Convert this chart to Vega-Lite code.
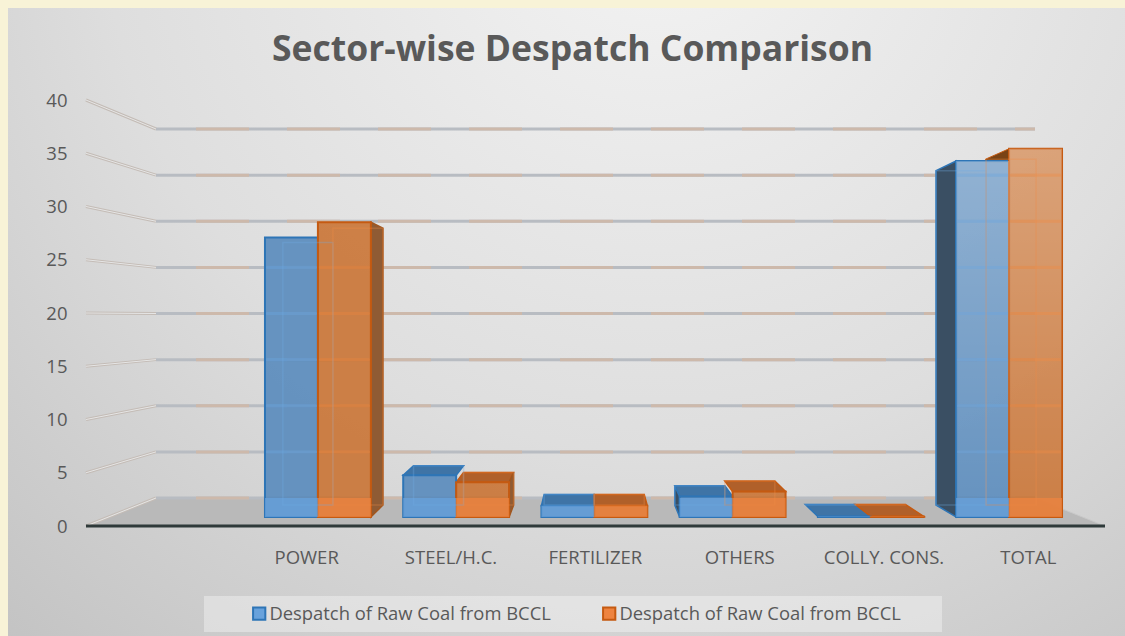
{
  "$schema": "https://vega.github.io/schema/vega-lite/v6.json",
  "width": 1125,
  "height": 636,
  "padding": 0,
  "autosize": {"type": "none"},
  "background": "#f8f3d7",
  "title": {"text": "Sector-wise Despatch Comparison", "font": "Open Sans", "fontSize": 35.5, "fontWeight": "bold", "color": "#595959", "anchor": "middle", "frame": "group", "dx": 10, "offset": -103, "baseline": "bottom"},
  "config": {"view": {"stroke": null}, "scale": {"round": false}},
  "params": [{"name": "order", "value": ["POWER", "STEEL/H.C.", "FERTILIZER", "OTHERS", "COLLY. CONS.", "TOTAL"]}],
  "datasets": {
    "bars": [
      {"sector": "POWER", "series": "A", "value": 27.4},
      {"sector": "POWER", "series": "B", "value": 28.9},
      {"sector": "STEEL/H.C.", "series": "A", "value": 4.1},
      {"sector": "STEEL/H.C.", "series": "B", "value": 3.4},
      {"sector": "FERTILIZER", "series": "A", "value": 1.1},
      {"sector": "FERTILIZER", "series": "B", "value": 1.1},
      {"sector": "OTHERS", "series": "A", "value": 2.0},
      {"sector": "OTHERS", "series": "B", "value": 2.5},
      {"sector": "COLLY. CONS.", "series": "A", "value": 0.05},
      {"sector": "COLLY. CONS.", "series": "B", "value": 0.05},
      {"sector": "TOTAL", "series": "A", "value": 34.9},
      {"sector": "TOTAL", "series": "B", "value": 36.1}
    ],
    "ticks": [{"tick": 0}, {"tick": 5}, {"tick": 10}, {"tick": 15}, {"tick": 20}, {"tick": 25}, {"tick": 30}, {"tick": 35}, {"tick": 40}],
    "barGrid": [
      {"sector": "POWER", "series": "A", "tick": 5}, {"sector": "POWER", "series": "A", "tick": 10}, {"sector": "POWER", "series": "A", "tick": 15}, {"sector": "POWER", "series": "A", "tick": 20}, {"sector": "POWER", "series": "A", "tick": 25},
      {"sector": "POWER", "series": "B", "tick": 5}, {"sector": "POWER", "series": "B", "tick": 10}, {"sector": "POWER", "series": "B", "tick": 15}, {"sector": "POWER", "series": "B", "tick": 20}, {"sector": "POWER", "series": "B", "tick": 25},
      {"sector": "TOTAL", "series": "A", "tick": 5}, {"sector": "TOTAL", "series": "A", "tick": 10}, {"sector": "TOTAL", "series": "A", "tick": 15}, {"sector": "TOTAL", "series": "A", "tick": 20}, {"sector": "TOTAL", "series": "A", "tick": 25}, {"sector": "TOTAL", "series": "A", "tick": 30}, {"sector": "TOTAL", "series": "A", "tick": 35},
      {"sector": "TOTAL", "series": "B", "tick": 5}, {"sector": "TOTAL", "series": "B", "tick": 10}, {"sector": "TOTAL", "series": "B", "tick": 15}, {"sector": "TOTAL", "series": "B", "tick": 20}, {"sector": "TOTAL", "series": "B", "tick": 25}, {"sector": "TOTAL", "series": "B", "tick": 30}, {"sector": "TOTAL", "series": "B", "tick": 35}
    ]
  },
  "resolve": {
    "scale": {"x": "independent", "y": "independent", "xOffset": "independent", "fill": "independent", "stroke": "independent"},
    "axis": {"x": "independent", "y": "independent"},
    "legend": {"fill": "independent", "stroke": "independent"}
  },
  "layer": [
    {
      "description": "Chart panel",
      "data": {"values": [{"panel": 1}]},
      "mark": {"type": "rect", "fill": {"gradient": "radial", "x1": 0.58, "y1": 0.12, "r1": 0, "x2": 0.58, "y2": 0.12, "r2": 0.9, "stops": [{"offset": 0, "color": "#f4f4f4"}, {"offset": 0.55, "color": "#dedede"}, {"offset": 1, "color": "#c2c2c2"}]}},
      "encoding": {
        "x": {"datum": 0, "type": "quantitative", "axis": null, "scale": {"domain": [0, 1], "range": [8, 1125]}},
        "x2": {"datum": 1},
        "y": {"datum": 0, "type": "quantitative", "axis": null, "scale": {"domain": [0, 1], "range": [8, 636]}},
        "y2": {"datum": 1}
      }
    },
    {
      "description": "Legend band",
      "data": {"values": [{"panel": 1}]},
      "mark": {"type": "rect", "fill": "#ffffff", "opacity": 0.35},
      "encoding": {
        "x": {"datum": 0, "type": "quantitative", "axis": null, "scale": {"domain": [0, 1], "range": [204, 942]}},
        "x2": {"datum": 1},
        "y": {"datum": 0, "type": "quantitative", "axis": null, "scale": {"domain": [0, 1], "range": [596, 632]}},
        "y2": {"datum": 1}
      }
    },
    {
      "description": "Chart floor",
      "data": {"values": [{"tick": 0}]},
      "mark": {"type": "point", "filled": true, "size": 4, "opacity": 1, "fill": "#b9b9b9", "stroke": "#c9c9c9", "strokeWidth": 1, "shape": "M0,0L879,0L949,28L-70,28Z"},
      "encoding": {
        "x": {"datum": 0, "type": "quantitative", "axis": null, "scale": {"domain": [0, 1], "range": [156, 1035]}},
        "y": {"field": "tick", "type": "quantitative", "axis": null, "scale": {"domain": [0, 40], "range": [498, 129]}}
      }
    },
    {
      "description": "Back wall gridlines, grey base",
      "data": {"name": "ticks"},
      "mark": {"type": "rule", "stroke": "#b8bcc2", "strokeWidth": 3},
      "encoding": {
        "x": {"datum": 0, "type": "quantitative", "axis": null, "scale": {"domain": [0, 1], "range": [156, 1035]}},
        "x2": {"datum": 1},
        "y": {"field": "tick", "type": "quantitative", "axis": null, "scale": {"domain": [0, 40], "range": [498, 129]}}
      }
    },
    {
      "description": "Back wall gridlines, orange tint",
      "data": {"name": "ticks"},
      "mark": {"type": "rule", "stroke": "#cdb9ab", "strokeWidth": 3, "strokeDash": [53, 38]},
      "encoding": {
        "x": {"datum": 0, "type": "quantitative", "axis": null, "scale": {"domain": [0, 1], "range": [196, 1035]}},
        "x2": {"datum": 1},
        "y": {"field": "tick", "type": "quantitative", "axis": null, "scale": {"domain": [0, 40], "range": [498, 129]}}
      }
    },
    {
      "description": "Side wall gridlines running from the axis to the back wall",
      "data": {"name": "ticks"},
      "mark": {"type": "rule", "stroke": "#c4bcb6", "strokeWidth": 3, "y2Offset": {"expr": "28-1.425*datum.tick"}},
      "encoding": {
        "x": {"datum": 0, "type": "quantitative", "axis": null, "scale": {"domain": [0, 1], "range": [156, 86]}},
        "x2": {"datum": 1},
        "y": {"field": "tick", "type": "quantitative", "axis": null, "scale": {"domain": [0, 40], "range": [498, 129]}},
        "y2": {"field": "tick"}
      }
    },
    {
      "description": "Pale core of the side wall gridlines",
      "data": {"name": "ticks"},
      "mark": {"type": "rule", "stroke": "#e6e6e6", "strokeWidth": 1, "y2Offset": {"expr": "28-1.425*datum.tick"}},
      "encoding": {
        "x": {"datum": 0, "type": "quantitative", "axis": null, "scale": {"domain": [0, 1], "range": [156, 86]}},
        "x2": {"datum": 1},
        "y": {"field": "tick", "type": "quantitative", "axis": null, "scale": {"domain": [0, 40], "range": [498, 129]}},
        "y2": {"field": "tick"}
      }
    },
    {
      "description": "Value axis and its baseline",
      "data": {"values": [{"tick": 0}]},
      "mark": {"type": "rule", "stroke": "#2f3a3a", "strokeWidth": 3},
      "encoding": {
        "x": {"datum": 0, "type": "quantitative", "axis": null, "scale": {"domain": [0, 1], "range": [86, 1105]}},
        "x2": {"datum": 1},
        "y": {"field": "tick", "type": "quantitative", "scale": {"domain": [0, 40], "range": [526, 100]},
          "axis": {"title": null, "orient": "left", "offset": -67, "zindex": 1, "values": [0, 5, 10, 15, 20, 25, 30, 35, 40], "domain": false, "ticks": false, "grid": false, "labelPadding": 0, "labelFont": "Open Sans", "labelFontSize": 18.5, "labelColor": "#595959"}}
      }
    },
    {
      "description": "Sector axis",
      "data": {"name": "bars"},
      "mark": {"type": "point", "opacity": 0},
      "encoding": {
        "x": {"field": "sector", "type": "nominal", "sort": null, "scale": {"domain": {"expr": "order"}, "range": [234, 1100], "paddingInner": 0, "paddingOuter": 0},
          "axis": {"title": null, "orient": "bottom", "offset": -91, "zindex": 1, "domain": false, "ticks": false, "grid": false, "labelAngle": 0, "labelPadding": 3, "labelFont": "Open Sans", "labelFontSize": 18.5, "labelColor": "#595959", "labelLimit": 200}},
        "y": {"datum": 0, "type": "quantitative", "axis": null, "scale": {"domain": [0, 40], "range": [517, 109]}}
      }
    },
    {
      "description": "Top faces of the bars, seen only on bars below eye level",
      "data": {"name": "bars"},
      "transform": [{"filter": "datum.value < 19"}],
      "mark": {"type": "point", "filled": true, "size": 4, "opacity": 1, "strokeWidth": 1.5,
        "shape": {"expr": "'M-26.5,0L26.5,0L'+(26.5+(273-138.4*indexof(order,datum.sector)-(datum.series=='B'?53:0))*0.055)+','+(0.62*datum.value-12)+'L'+(-26.5+(326-138.4*indexof(order,datum.sector)-(datum.series=='B'?53:0))*0.055)+','+(0.62*datum.value-12)+'Z'"}},
      "encoding": {
        "x": {"field": "sector", "type": "nominal", "axis": null, "scale": {"domain": {"expr": "order"}, "range": [248.8, 1078.2], "paddingInner": 0.234, "paddingOuter": 0.117}},
        "xOffset": {"field": "series", "type": "nominal"},
        "y": {"field": "value", "type": "quantitative", "stack": null, "axis": null, "scale": {"domain": [0, 40], "range": [517, 109]}},
        "fill": {"field": "series", "type": "nominal", "legend": null, "scale": {"domain": ["A", "B"], "range": ["#3f74a6", "#b0602a"]}},
        "stroke": {"field": "series", "type": "nominal", "legend": null, "scale": {"domain": ["A", "B"], "range": ["#2e75b6", "#c55a11"]}}
      }
    },
    {
      "description": "Outer side faces of the bars",
      "data": {"name": "bars"},
      "transform": [{"filter": "datum.value > 1 && ((datum.series=='A' && indexof(order,datum.sector)>=3) || (datum.series=='B' && indexof(order,datum.sector)<=1))"}],
      "mark": {"type": "point", "filled": true, "size": 4, "opacity": 1, "strokeWidth": 1.5,
        "shape": {"expr": "datum.series=='B' ? 'M26.5,0L'+(26.5+(273-138.4*indexof(order,datum.sector)-53)*0.055)+','+(0.62*datum.value-12)+'L'+(26.5+(273-138.4*indexof(order,datum.sector)-53)*0.055)+','+(10.2*datum.value-12)+'L26.5,'+(10.2*datum.value)+'Z' : 'M-26.5,0L'+(-26.5+(326-138.4*indexof(order,datum.sector))*0.055)+','+(0.62*datum.value-12)+'L'+(-26.5+(326-138.4*indexof(order,datum.sector))*0.055)+','+(10.2*datum.value-12)+'L-26.5,'+(10.2*datum.value)+'Z'"}},
      "encoding": {
        "x": {"field": "sector", "type": "nominal", "axis": null, "scale": {"domain": {"expr": "order"}, "range": [248.8, 1078.2], "paddingInner": 0.234, "paddingOuter": 0.117}},
        "xOffset": {"field": "series", "type": "nominal", "scale": {"domain": ["A", "B"]}},
        "y": {"field": "value", "type": "quantitative", "stack": null, "axis": null, "scale": {"domain": [0, 40], "range": [517, 109]}},
        "fill": {"field": "series", "type": "nominal", "legend": null, "scale": {"domain": ["A", "B"], "range": ["#3a4f63", "#8f5b34"]}},
        "stroke": {"field": "series", "type": "nominal", "legend": null, "scale": {"domain": ["A", "B"], "range": ["#2e75b6", "#a0561f"]}}
      }
    },
    {
      "description": "Inner side of the tallest orange bar, visible above its neighbour",
      "data": {"name": "bars"},
      "transform": [{"filter": "datum.series=='B' && datum.sector=='TOTAL'"}],
      "mark": {"type": "point", "filled": true, "size": 4, "opacity": 1, "fill": "#7a4315", "stroke": "#c55a11", "strokeWidth": 1, "shape": "M-26.5,0L-50,10.4L-50,13L-26.5,13Z"},
      "encoding": {
        "x": {"field": "sector", "type": "nominal", "axis": null, "scale": {"domain": {"expr": "order"}, "range": [248.8, 1078.2], "paddingInner": 0.234, "paddingOuter": 0.117}},
        "xOffset": {"field": "series", "type": "nominal", "scale": {"domain": ["A", "B"]}},
        "y": {"field": "value", "type": "quantitative", "stack": null, "axis": null, "scale": {"domain": [0, 40], "range": [517, 109]}}
      }
    },
    {
      "description": "Front faces of the bars",
      "data": {"name": "bars"},
      "mark": {"type": "bar", "fillOpacity": 0.87, "strokeWidth": 2},
      "encoding": {
        "x": {"field": "sector", "type": "nominal", "axis": null, "scale": {"domain": {"expr": "order"}, "range": [248.8, 1078.2], "paddingInner": 0.234, "paddingOuter": 0.117}},
        "xOffset": {"field": "series", "type": "nominal"},
        "y": {"field": "value", "type": "quantitative", "stack": null, "axis": null, "scale": {"domain": [0, 40], "range": [517, 109]}},
        "fill": {"field": "series", "type": "nominal", "scale": {"domain": ["A", "B"], "range": ["#5488bb", "#c9702f"]}, "legend": null},
        "stroke": {"field": "series", "type": "nominal", "legend": null, "scale": {"domain": ["A", "B"], "range": ["#2e75b6", "#c55a11"]}}
      }
    },
    {
      "description": "Glow on the upper part of the total bars",
      "data": {"name": "bars"},
      "transform": [{"filter": "datum.sector=='TOTAL'"}],
      "mark": {"type": "bar", "fill": {"gradient": "linear", "x1": 0, "y1": 0, "x2": 0, "y2": 1, "stops": [{"offset": 0, "color": "rgba(255,255,255,0.28)"}, {"offset": 1, "color": "rgba(255,255,255,0)"}]}},
      "encoding": {
        "x": {"field": "sector", "type": "nominal", "axis": null, "scale": {"domain": {"expr": "order"}, "range": [248.8, 1078.2], "paddingInner": 0.234, "paddingOuter": 0.117}},
        "xOffset": {"field": "series", "type": "nominal", "scale": {"domain": ["A", "B"]}},
        "y": {"field": "value", "type": "quantitative", "stack": null, "axis": null, "scale": {"domain": [0, 40], "range": [517, 109]}}
      }
    },
    {
      "description": "Brighter band where the bars stand in front of the floor",
      "data": {"name": "bars"},
      "mark": {"type": "bar", "fillOpacity": 0.75, "strokeWidth": 2, "strokeOpacity": 0},
      "encoding": {
        "x": {"field": "sector", "type": "nominal", "axis": null, "scale": {"domain": {"expr": "order"}, "range": [248.8, 1078.2], "paddingInner": 0.234, "paddingOuter": 0.117}},
        "xOffset": {"field": "series", "type": "nominal"},
        "y": {"field": "value", "type": "quantitative", "stack": null, "axis": null, "scale": {"domain": [0, 1.86], "range": [517, 498], "clamp": true}},
        "fill": {"field": "series", "type": "nominal", "scale": {"domain": ["A", "B"], "range": ["#68a2dc", "#ee8440"]},
          "legend": {"title": null, "orient": "none", "legendX": 250, "legendY": 604, "direction": "horizontal", "columns": 2, "columnPadding": 48, "symbolType": "square", "symbolSize": 150, "symbolStrokeWidth": 2, "symbolOpacity": 1, "labelOffset": 1, "labelFont": "Open Sans", "labelFontSize": 18.4, "labelColor": "#595959", "labelLimit": 400, "labelExpr": "'Despatch of Raw Coal from BCCL'"}},
        "stroke": {"field": "series", "type": "nominal", "scale": {"domain": ["A", "B"], "range": ["#2e75b6", "#c55a11"]},
          "legend": {"title": null, "orient": "none", "legendX": 250, "legendY": 604, "direction": "horizontal", "columns": 2, "columnPadding": 48, "symbolType": "square", "symbolSize": 150, "symbolStrokeWidth": 2, "symbolOpacity": 1, "labelOffset": 1, "labelFont": "Open Sans", "labelFontSize": 18.4, "labelColor": "#595959", "labelLimit": 400, "labelExpr": "'Despatch of Raw Coal from BCCL'"}}
      }
    },
    {
      "description": "Wall gridlines glowing through the tall bars",
      "data": {"name": "barGrid"},
      "mark": {"type": "tick", "size": 50, "thickness": 2, "opacity": 0.4},
      "encoding": {
        "x": {"field": "sector", "type": "nominal", "axis": null, "scale": {"domain": {"expr": "order"}, "range": [248.8, 1078.2], "paddingInner": 0.234, "paddingOuter": 0.117}},
        "xOffset": {"field": "series", "type": "nominal"},
        "y": {"field": "tick", "type": "quantitative", "axis": null, "scale": {"domain": [0, 40], "range": [498, 129]}},
        "stroke": {"field": "series", "type": "nominal", "legend": null, "scale": {"domain": ["A", "B"], "range": ["#72ace6", "#f08c45"]}},
        "fill": {"field": "series", "type": "nominal", "legend": null, "scale": {"domain": ["A", "B"], "range": ["#72ace6", "#f08c45"]}}
      }
    },
    {
      "description": "Rear faces of the bars, seen through the front",
      "data": {"name": "bars"},
      "mark": {"type": "bar", "fillOpacity": 0, "strokeWidth": 1.5, "strokeOpacity": 0.3},
      "encoding": {
        "x": {"field": "sector", "type": "nominal", "axis": null, "scale": {"domain": {"expr": "order"}, "range": [267.6, 1051.4], "paddingInner": 0.234, "paddingOuter": 0.117}},
        "xOffset": {"field": "series", "type": "nominal"},
        "y": {"field": "value", "type": "quantitative", "stack": null, "axis": null, "scale": {"domain": [0, 40], "range": [505, 121.8]}},
        "stroke": {"field": "series", "type": "nominal", "legend": null, "scale": {"domain": ["A", "B"], "range": ["#72ace6", "#f08c45"]}}
      }
    }
  ]
}
